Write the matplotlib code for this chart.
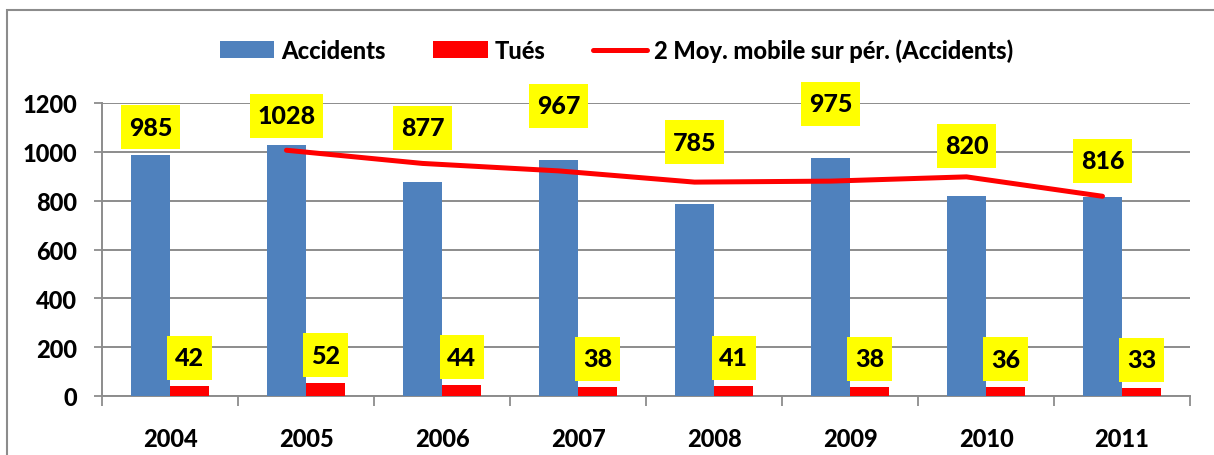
import matplotlib
matplotlib.use('Agg')
import matplotlib.pyplot as plt
from matplotlib.patches import Rectangle
from matplotlib.path import Path
import pandas as pd

# data
years = ['2004', '2005', '2006', '2007', '2008', '2009', '2010', '2011']
accidents = [985, 1028, 877, 967, 785, 975, 820, 816]
tues = [42, 52, 44, 38, 41, 38, 36, 33]
y_ticks = [0, 200, 400, 600, 800, 1000, 1200]

# label boxes were dragged by hand in the original: offset above bar top, in pixels
acc_label_offset = [28, 29, 54, 54, 62, 54, 50, 36]
tues_label_offset = 28

BLUE = '#4F81BD'
RED = '#FF0000'
GRID = '#8C8C8C'
plt.rcParams['font.family'] = ['Lato', 'DejaVu Sans']
plt.rcParams['font.weight'] = 'bold'


def tall_box(x0, y0, width, height, mutation_size):
    # yellow label box, more padding on top/bottom than on the sides
    px = 0.3 * mutation_size
    py = 0.42 * mutation_size
    x0, x1 = x0 - px, x0 + width + px
    y0, y1 = y0 - py, y0 + height + py
    return Path([(x0, y0), (x1, y0), (x1, y1), (x0, y1), (x0, y0)], closed=True)


fig = plt.figure(figsize=(12.14, 4.56), dpi=100, facecolor='white')
ax = fig.add_axes([102 / 1214, 59 / 456, 1088 / 1214, 293 / 456])

x = list(range(len(years)))
w = 0.287
x_acc = [i - w / 2 for i in x]
x_tues = [i + w / 2 for i in x]

h_acc = ax.bar(x_acc, accidents, width=w, color=BLUE, label='Accidents', zorder=3)
h_tues = ax.bar(x_tues, tues, width=w, color=RED, label='Tués', zorder=3)

# 2-period moving average, as the Excel trendline
mov = pd.Series(accidents).rolling(2).mean()
h_mov, = ax.plot(x_acc[1:], mov[1:], color=RED, linewidth=3.6, solid_capstyle='round',
                 label='2 Moy. mobile sur pér. (Accidents)', zorder=4)

box = dict(boxstyle=tall_box, facecolor='#FFFF00', edgecolor='none')
for i in x:
    ax.annotate(str(accidents[i]), (x_acc[i], accidents[i]), xytext=(0, acc_label_offset[i]),
                textcoords='offset pixels', ha='center', va='center', fontsize=18,
                fontweight='black', bbox=box, zorder=5, annotation_clip=False)
    ax.annotate(str(tues[i]), (x_tues[i], tues[i]), xytext=(0, tues_label_offset),
                textcoords='offset pixels', ha='center', va='center', fontsize=18,
                fontweight='black', bbox=box, zorder=5)

ax.set_xlim(-0.5, len(years) - 0.5)
ax.set_ylim(0, 1200)
ax.set_yticks(y_ticks)
ax.set_yticklabels([str(v) for v in y_ticks])
ax.set_xticks(x)
ax.set_xticklabels(years)
ax.set_xticks([i - 0.5 for i in range(len(years) + 1)], minor=True)
ax.tick_params(axis='x', which='major', length=0, pad=22, labelsize=17)
ax.tick_params(axis='x', which='minor', length=7, width=1.3, color=GRID, direction='out')
ax.tick_params(axis='y', length=6, width=1.3, color=GRID, pad=12, labelsize=17)
for lbl in ax.get_xticklabels() + ax.get_yticklabels():
    lbl.set_fontweight('black')

ax.grid(axis='y', color=GRID, linewidth=1.4, zorder=0)
ax.set_axisbelow(True)
for s in ['top', 'right']:
    ax.spines[s].set_visible(False)
for s in ['left', 'bottom']:
    ax.spines[s].set_color(GRID)
    ax.spines[s].set_linewidth(1.4)

fig.legend([h_acc, h_tues, h_mov], ['Accidents', 'Tués', '2 Moy. mobile sur pér. (Accidents)'],
           loc='center', bbox_to_anchor=(0.508, 0.888), ncol=3, frameon=False,
           prop={'size': 17, 'weight': 'black'}, handlelength=2.3, handleheight=0.7,
           handletextpad=0.3, columnspacing=2.0)

# outer chart border (cut off at right and bottom in the reference)
fig.patches.append(Rectangle((7 / 1214, -0.1), 1.2, (445 / 456) + 0.1, transform=fig.transFigure,
                             fill=False, edgecolor='#8C8C8C', linewidth=1.5))

fig.savefig('out.png', dpi=100, facecolor=fig.get_facecolor())
